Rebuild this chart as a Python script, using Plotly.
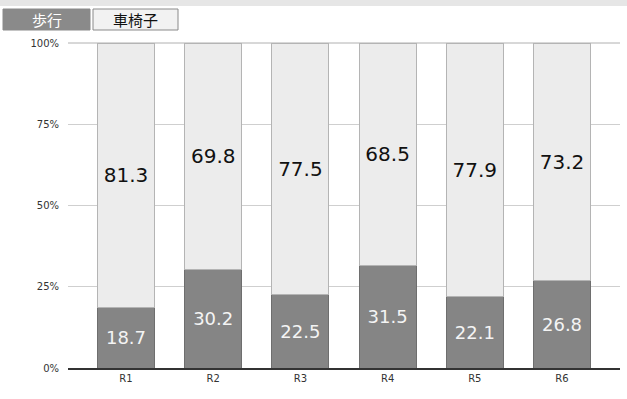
import plotly.graph_objects as go

categories = ['R1', 'R2', 'R3', 'R4', 'R5', 'R6']
walk = [18.7, 30.2, 22.5, 31.5, 22.1, 26.8]
wheelchair = [81.3, 69.8, 77.5, 68.5, 77.9, 73.2]

W, H = 627, 399
FONT = 'DejaVu Sans'
ML, MR, MT, MB = 68, 7, 43, 31
PW, PH = W - ML - MR, H - MT - MB


def px(x):
    return (x - ML) / PW


def py(y):
    return 1 + (MT - y) / PH


fig = go.Figure()

fig.add_trace(go.Bar(
    x=categories, y=walk, name='歩行',
    marker=dict(color='#858585', line=dict(color='#6e6e6e', width=1)),
    text=[f'{v:.1f}' for v in walk], textposition='inside', insidetextanchor='middle',
    textfont=dict(color='#f4f4f4', size=18, family=FONT),
))
fig.add_trace(go.Bar(
    x=categories, y=wheelchair, name='車椅子',
    marker=dict(color='#ececec', line=dict(color='#b4b4b4', width=1)),
    text=[f'{v:.1f}' for v in wheelchair], textposition='inside', insidetextanchor='middle',
    textfont=dict(color='#111111', size=20, family=FONT),
))

fig.update_layout(
    width=W, height=H, barmode='stack', bargap=0.346,
    paper_bgcolor='white', plot_bgcolor='white', showlegend=False,
    margin=dict(l=ML, r=MR, t=MT, b=MB),
    font=dict(family=FONT, size=10, color='#333333'),
)

fig.update_xaxes(
    type='category', range=[-0.665, 5.665],
    showline=True, linecolor='#333333', linewidth=2,
    ticks='', tickfont=dict(size=10, color='#333333'),
)
fig.update_yaxes(
    range=[0, 100], tickvals=[0, 25, 50, 75, 100],
    ticktext=['0%', '25%', '50%', '75%', '100%'],
    showgrid=True, gridcolor='#cfcfcf', gridwidth=1,
    zeroline=False, ticks='', ticklabelstandoff=8,
    tickfont=dict(size=10, color='#333333'),
)

# top band and legend buttons
shapes = [
    dict(type='rect', xref='paper', yref='paper', x0=px(0), x1=px(W),
         y0=py(6), y1=py(0), fillcolor='#e6e6e6', line=dict(width=0), layer='below'),
    dict(type='line', xref='paper', yref='paper', x0=0, x1=1, y0=1, y1=1,
         line=dict(color='#b0b0b0', width=1), layer='below'),
    dict(type='rect', xref='paper', yref='paper', x0=px(3), x1=px(90),
         y0=py(30), y1=py(9), fillcolor='#8a8a8a', line=dict(color='#8a8a8a', width=1)),
    dict(type='rect', xref='paper', yref='paper', x0=px(93), x1=px(178),
         y0=py(30), y1=py(9), fillcolor='#f2f2f2', line=dict(color='#8a8a8a', width=1)),
]
annots = [
    dict(xref='paper', yref='paper', x=px(46.5), y=py(19.5), text='歩行',
         xanchor='center', yanchor='middle', showarrow=False,
         font=dict(family='Noto Sans CJK JP', size=15, color='white')),
    dict(xref='paper', yref='paper', x=px(135.5), y=py(19.5), text='車椅子',
         xanchor='center', yanchor='middle', showarrow=False,
         font=dict(family='Noto Sans CJK JP', size=15, color='#111111')),
]
fig.update_layout(shapes=shapes, annotations=annots)

fig.write_html('out.html', config={'displayModeBar': False},
               post_script="document.body.style.margin='0';")
